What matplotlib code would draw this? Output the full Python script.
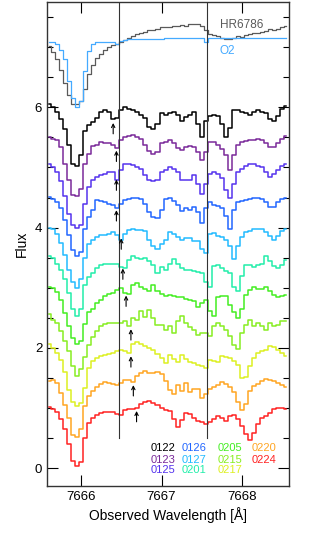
import matplotlib
matplotlib.use("Agg")
import matplotlib.pyplot as plt
import numpy as np

plt.rcParams['font.family'] = ['Liberation Sans', 'DejaVu Sans']

# wavelength grid (Angstrom), 0.05 A bins
wave = np.round(np.arange(7665.60, 7668.5501, 0.05), 2)

names = ["0122", "0123", "0125", "0126", "0127", "0201",
         "0205", "0215", "0217", "0220", "0224"]
colors = ["#000000", "#7a2a9a", "#5533ee", "#2266ff", "#22bbff", "#22eeaa",
          "#44ee22", "#88ee22", "#ddf022", "#ffa522", "#ff2222"]
offsets = [5.0, 4.5, 4.0, 3.5, 3.0, 2.5, 2.0, 1.5, 1.0, 0.5, 0.0]

# normalized flux
f0122 = [1.05, 1.00, 0.92, 0.80, 0.64, 0.37, 0.05, 0.02, 0.20, 0.60,
         0.70, 0.75, 0.82, 0.92, 0.95, 0.92, 0.80, 0.82, 0.95, 1.00,
         0.97, 0.95, 0.92, 0.88, 0.82, 0.68, 0.64, 0.72, 0.90, 0.88,
         0.90, 0.92, 0.88, 0.78, 0.84, 0.88, 0.92, 0.72, 0.50, 0.78,
         0.85, 0.88, 0.86, 0.72, 0.50, 0.65, 0.95, 0.95, 0.92, 0.90,
         0.88, 0.92, 0.95, 0.93, 0.90, 0.80, 0.78, 0.86, 0.98, 1.02]
f0123 = [1.00, 0.98, 0.96, 0.84, 0.55, 0.30, 0.05, 0.03, 0.15, 0.55,
         0.72, 0.85, 0.88, 0.92, 0.91, 0.90, 0.88, 0.83, 0.95, 1.00,
         1.03, 1.04, 1.00, 0.98, 0.88, 0.78, 0.72, 0.76, 0.90, 0.92,
         0.95, 0.90, 0.82, 0.79, 0.84, 0.85, 0.84, 0.76, 0.62, 0.75,
         0.92, 0.92, 0.87, 0.80, 0.70, 0.46, 0.70, 0.88, 0.92, 0.94,
         0.95, 0.96, 0.97, 0.95, 0.90, 0.84, 0.84, 0.90, 0.98, 1.03]
f0125 = [1.05, 1.01, 0.93, 0.78, 0.52, 0.22, 0.05, 0.00, 0.05, 0.40,
         0.68, 0.80, 0.85, 0.88, 0.90, 0.93, 0.92, 0.80, 0.95, 1.05,
         1.06, 1.04, 1.00, 0.97, 0.88, 0.80, 0.77, 0.80, 0.92, 0.95,
         1.00, 0.97, 0.92, 0.80, 0.79, 0.80, 0.88, 0.72, 0.56, 0.72,
         0.90, 0.93, 0.90, 0.82, 0.62, 0.50, 0.72, 0.92, 0.98, 1.02,
         1.05, 1.05, 1.02, 1.00, 0.92, 0.84, 0.90, 0.96, 1.03, 1.06]
f0126 = [1.01, 0.98, 0.93, 0.82, 0.62, 0.38, 0.12, 0.02, 0.10, 0.48,
         0.68, 0.80, 0.96, 0.94, 0.92, 0.90, 0.88, 0.82, 0.90, 0.96,
         0.98, 1.00, 1.00, 0.98, 0.90, 0.76, 0.68, 0.66, 0.80, 0.98,
         1.00, 0.95, 0.88, 0.78, 0.82, 0.80, 0.84, 0.76, 0.57, 0.82,
         0.92, 0.88, 0.86, 0.82, 0.70, 0.47, 0.80, 0.93, 0.94, 0.96,
         0.98, 1.00, 0.99, 0.97, 0.92, 0.85, 0.84, 0.93, 0.97, 0.99]
f0127 = [1.00, 0.97, 0.90, 0.75, 0.55, 0.30, 0.10, 0.00, 0.15, 0.50,
         0.72, 0.80, 0.85, 0.88, 0.88, 0.90, 0.93, 0.88, 0.80, 0.90,
         0.96, 0.98, 0.96, 0.96, 0.94, 0.80, 0.70, 0.64, 0.72, 0.80,
         0.93, 0.90, 0.85, 0.80, 0.82, 0.82, 0.78, 0.77, 0.64, 0.58,
         0.90, 0.91, 0.86, 0.85, 0.80, 0.69, 0.47, 0.69, 0.85, 0.92,
         0.95, 0.97, 0.98, 0.98, 0.92, 0.86, 0.80, 0.86, 0.94, 0.98]
f0201 = [1.02, 0.99, 0.90, 0.80, 0.64, 0.42, 0.15, 0.03, 0.15, 0.55,
         0.68, 0.75, 0.82, 0.87, 0.90, 0.90, 0.90, 0.89, 0.85, 0.82,
         0.96, 1.02, 1.00, 0.98, 1.00, 0.95, 0.88, 0.74, 0.84, 0.80,
         0.90, 0.97, 0.90, 0.82, 0.80, 0.79, 0.78, 0.76, 0.74, 0.60,
         0.52, 0.86, 0.88, 0.82, 0.78, 0.74, 0.52, 0.44, 0.70, 0.88,
         0.88, 0.85, 0.88, 0.90, 1.02, 0.94, 0.86, 0.82, 0.88, 0.96]
f0205 = [1.02, 0.99, 0.93, 0.80, 0.58, 0.36, 0.16, 0.07, 0.12, 0.40,
         0.60, 0.65, 0.74, 0.80, 0.86, 0.90, 0.91, 0.96, 0.99, 0.92,
         0.90, 1.04, 1.08, 1.02, 0.98, 0.94, 1.04, 0.94, 0.90, 0.86,
         0.88, 0.86, 0.85, 0.84, 0.82, 0.80, 0.78, 0.68, 0.74, 0.80,
         0.62, 0.53, 0.85, 0.87, 0.86, 0.72, 0.60, 0.50, 0.64, 0.88,
         0.96, 1.02, 0.98, 0.98, 1.02, 0.95, 0.88, 0.85, 0.87, 0.88]
f0215 = [1.06, 0.97, 0.92, 0.78, 0.62, 0.45, 0.20, 0.04, 0.15, 0.35,
         0.55, 0.68, 0.78, 0.86, 0.90, 0.92, 0.92, 0.91, 0.92, 0.94,
         0.86, 1.00, 0.97, 1.11, 1.02, 1.13, 1.00, 0.88, 0.88, 0.80,
         0.86, 0.75, 0.95, 1.03, 0.91, 0.85, 0.80, 0.72, 0.75, 0.74,
         0.69, 0.86, 0.91, 0.86, 0.80, 0.69, 0.55, 0.48, 0.75, 0.88,
         0.97, 0.86, 0.91, 0.86, 0.80, 0.91, 0.86, 0.88, 0.94, 0.94]
f0217 = [1.07, 1.00, 0.92, 0.79, 0.60, 0.30, 0.10, 0.04, 0.08, 0.34,
         0.66, 0.78, 0.83, 0.86, 0.88, 0.90, 0.91, 0.94, 0.97, 0.95,
         0.91, 1.06, 1.09, 1.06, 1.03, 1.00, 0.97, 0.90, 0.83, 0.74,
         0.88, 0.82, 0.77, 0.88, 0.82, 0.77, 0.75, 0.72, 0.70, 0.66,
         0.80, 0.78, 0.77, 0.86, 0.84, 0.83, 0.78, 0.72, 0.50, 0.52,
         0.70, 0.83, 0.91, 0.95, 0.97, 1.03, 1.02, 0.97, 0.92, 0.86]
f0220 = [0.95, 0.97, 0.92, 0.75, 0.55, 0.33, 0.05, 0.01, 0.15, 0.53,
         0.70, 0.79, 0.85, 0.90, 0.93, 0.92, 0.90, 0.88, 0.92, 0.97,
         0.97, 0.93, 1.03, 1.08, 1.12, 1.08, 1.08, 1.10, 1.06, 0.95,
         0.80, 0.74, 0.88, 0.79, 0.91, 0.76, 0.82, 0.82, 0.67, 0.74,
         0.82, 0.85, 0.88, 0.93, 0.90, 0.85, 0.76, 0.60, 0.46, 0.57,
         0.79, 0.86, 0.90, 0.95, 0.98, 0.96, 0.95, 0.92, 0.88, 0.85]
f0224 = [1.01, 0.99, 0.94, 0.82, 0.65, 0.40, 0.12, 0.03, 0.10, 0.50,
         0.75, 0.83, 0.88, 0.92, 0.94, 0.94, 0.93, 0.90, 0.89, 0.96,
         0.98, 0.98, 1.00, 1.06, 1.10, 1.12, 1.09, 1.05, 1.00, 0.97,
         0.95, 0.81, 0.68, 0.80, 0.92, 0.90, 0.84, 0.79, 0.76, 0.74,
         0.76, 0.81, 0.86, 0.83, 0.79, 0.86, 0.88, 0.82, 0.70, 0.57,
         0.46, 0.58, 0.74, 0.83, 0.87, 0.92, 0.98, 1.00, 1.00, 0.98]
spectra = [f0122, f0123, f0125, f0126, f0127, f0201,
           f0205, f0215, f0217, f0220, f0224]

# comparison spectra at the top (absolute flux units)
hr6786 = [7.02, 6.92, 6.80, 6.62, 6.40, 6.20, 6.06, 6.05, 6.10, 6.30,
          6.55, 6.70, 6.82, 6.88, 6.95, 7.00, 7.04, 7.06, 7.08, 7.12,
          7.15, 7.18, 7.22, 7.24, 7.26, 7.28, 7.29, 7.31, 7.33, 7.34,
          7.33, 7.36, 7.35, 7.37, 7.36, 7.38, 7.38, 7.39, 7.36, 7.28,
          7.22, 7.20, 7.18, 7.16, 7.14, 7.13, 7.15, 7.18, 7.17, 7.20,
          7.22, 7.24, 7.23, 7.26, 7.27, 7.30, 7.29, 7.31, 7.33, 7.36]
o2 = [7.09, 7.08, 7.06, 6.95, 6.80, 6.44, 6.15, 6.00, 6.10, 6.60,
      6.94, 7.05, 7.09, 7.09, 7.09, 7.09, 7.09, 7.05, 7.10, 7.12,
      7.13, 7.13, 7.13, 7.14, 7.14, 7.14, 7.14, 7.14, 7.14, 7.15,
      7.15, 7.15, 7.15, 7.15, 7.15, 7.15, 7.15, 7.15, 7.15, 7.09,
      7.15, 7.15, 7.15, 7.15, 7.15, 7.15, 7.15, 7.15, 7.15, 7.15,
      7.15, 7.15, 7.15, 7.15, 7.15, 7.15, 7.15, 7.15, 7.15, 7.15]

# moving feature marked with arrows (wavelength, tip height in normalized flux)
arrow_x = [7666.40, 7666.44, 7666.44, 7666.44, 7666.50, 7666.52,
           7666.56, 7666.62, 7666.62, 7666.65, 7666.69]
arrow_tip = [0.74, 0.78, 0.80, 0.79, 0.82, 0.82, 0.87, 0.81, 0.86, 0.88, 0.95]

vlines = [7666.47, 7667.56]

fig = plt.figure(figsize=(3.14, 5.36), dpi=100)
ax = fig.add_axes([0.150, 0.093, 0.770, 0.903])

ax.step(wave, hr6786, where='mid', color='#5a5a5a', lw=0.9)
ax.step(wave, o2, where='mid', color='#45aaff', lw=0.9)

for k in range(len(spectra)):
	ax.step(wave, np.array(spectra[k]) + offsets[k], where='mid', color=colors[k], lw=1.1)
	ax.annotate("", xy=(arrow_x[k], arrow_tip[k] + offsets[k]),
	            xytext=(arrow_x[k], arrow_tip[k] + offsets[k] - 0.18),
	            arrowprops=dict(arrowstyle='->', color='k', lw=0.8, shrinkA=0, shrinkB=0,
	                            mutation_scale=6))

for v in vlines:
	ax.plot([v, v], [0.5, 7.75], color='#333333', lw=0.8)

ax.text(7667.72, 7.37, "HR6786", color='#5a5a5a', fontsize=8.5, va='center')
ax.text(7667.72, 6.93, "O2", color='#45aaff', fontsize=8.5, va='center')

# legend of observation dates
leg_x = [7666.86, 7667.25, 7667.70, 7668.12]
leg_y = [0.33, 0.13, -0.03]
for k in range(len(names)):
	ax.text(leg_x[k // 3], leg_y[k % 3], names[k], color=colors[k], fontsize=8, va='center')

ax.set_xlim(7665.58, 7668.58)
ax.set_ylim(-0.3, 7.75)
ax.set_xticks([7666, 7667, 7668])
ax.set_yticks([0, 2, 4, 6])
ax.set_yticks(np.arange(0, 7.6, 0.5), minor=True)
ax.tick_params(direction='in', top=True, right=True, length=8, width=0.8, labelsize=9.5)
ax.tick_params(which='minor', direction='in', right=True, length=4, width=0.8)
ax.set_xlabel("Observed Wavelength [Å]", fontsize=10, labelpad=3)
ax.set_ylabel("Flux", fontsize=10)
for s in ax.spines.values():
	s.set_linewidth(1.0)
	s.set_color('#333333')

fig.savefig("out.png", dpi=100)
